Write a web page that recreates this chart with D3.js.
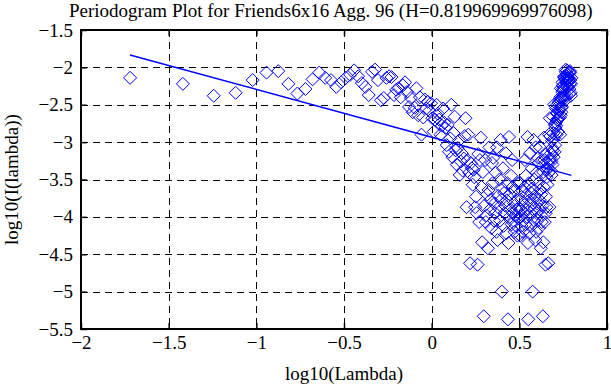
<!DOCTYPE html>
<html><head><meta charset="utf-8">
<script src="https://cdn.jsdelivr.net/npm/d3@7"></script>
<style>
body{margin:0;background:#fff;}
text{font-family:"Liberation Serif","Times New Roman",serif;fill:#000;}
</style>
</head><body>
<svg id="chart" width="611" height="385"></svg>
<script>
// ---- data ----
const titleText = "Periodogram Plot for Friends6x16 Agg. 96 (H=0.819969969976098)";
const xLabel = "log10(Lambda)";
const yLabel = "log10(I(lambda))";
const xTickValues = [-2, -1.5, -1, -0.5, 0, 0.5, 1];
const xTickLabels = ["\u22122", "\u22121.5", "\u22121", "\u22120.5", "0", "0.5", "1"];
const yTickValues = [-5.5, -5, -4.5, -4, -3.5, -3, -2.5, -2, -1.5];
const yTickLabels = ["\u22125.5", "\u22125", "\u22124.5", "\u22124", "\u22123.5", "\u22123", "\u22122.5", "\u22122", "\u22121.5"];

// log10(lambda) of each periodogram point
const logLambda = [
-1.720,-1.419,-1.243,-1.118,-1.021,-0.942,-0.875,-0.817,-0.766,-0.720,
-0.679,-0.641,-0.607,-0.574,-0.544,-0.516,-0.490,-0.465,-0.442,-0.419,
-0.398,-0.378,-0.359,-0.340,-0.323,-0.306,-0.289,-0.273,-0.258,-0.243,
-0.229,-0.215,-0.202,-0.189,-0.176,-0.164,-0.152,-0.141,-0.129,-0.118,
-0.108,-0.097,-0.087,-0.077,-0.067,-0.058,-0.048,-0.039,-0.030,-0.022,
-0.013,-0.004,0.004,0.012,0.020,0.028,0.035,0.043,0.050,0.058,
0.065,0.072,0.079,0.086,0.092,0.099,0.106,0.112,0.118,0.125,
0.131,0.137,0.143,0.149,0.155,0.160,0.166,0.172,0.177,0.183,
0.188,0.193,0.199,0.204,0.209,0.214,0.219,0.224,0.229,0.234,
0.239,0.243,0.248,0.253,0.257,0.262,0.266,0.271,0.275,0.280,
0.284,0.288,0.292,0.297,0.301,0.305,0.309,0.313,0.317,0.321,
0.325,0.329,0.333,0.336,0.340,0.344,0.348,0.351,0.355,0.359,
0.362,0.366,0.369,0.373,0.376,0.380,0.383,0.387,0.390,0.393,
0.397,0.400,0.403,0.407,0.410,0.413,0.416,0.419,0.423,0.426,
0.429,0.432,0.435,0.438,0.441,0.444,0.447,0.450,0.453,0.456,
0.459,0.461,0.464,0.467,0.470,0.473,0.475,0.478,0.481,0.484,
0.486,0.489,0.492,0.494,0.497,
0.500,0.502,0.505,0.507,0.510,0.512,0.515,0.518,0.520,0.523,
0.525,0.527,0.530,0.532,0.535,0.537,0.540,0.542,0.544,0.547,
0.549,0.551,0.554,0.556,0.558,0.561,0.563,0.565,0.567,0.570,
0.572,0.574,0.576,0.578,0.581,0.583,0.585,0.587,0.589,0.591,
0.593,0.596,0.598,0.600,0.602,0.604,0.606,0.608,0.610,0.612,
0.614,0.616,0.618,0.620,0.622,0.624,0.626,0.628,0.630,0.632,
0.634,0.636,0.637,0.639,0.641,0.643,0.645,0.647,0.649,0.651,
0.652,0.654,0.656,0.658,0.660,0.662,0.663,0.665,0.667,0.669,
0.670,0.672,0.674,0.676,0.677,0.679,0.681,0.683,0.684,0.686,
0.688,0.689,0.691,0.693,0.694,0.696,0.698,0.699,0.701,0.703,
0.704,0.706,0.708,0.709,0.711,0.712,0.714,0.716,0.717,0.719,
0.720,0.722,0.724,0.725,0.727,0.728,0.730,0.731,0.733,0.734,
0.736,0.737,0.739,0.740,0.742,0.743,0.745,0.746,0.748,0.749,
0.751,0.752,0.754,0.755,0.757,0.758,0.760,0.761,0.762,0.764,
0.765,0.767,0.768,0.770,0.771,0.772,0.774,0.775,0.776,0.778,
0.779,0.781,0.782,0.783,0.785,0.786,0.787,0.789,0.790,0.791,
0.793,0.794,0.795,0.797
];

// log10(I(lambda)) of each periodogram point
const logI = [
-2.14,-2.22,-2.38,-2.34,-2.17,-2.07,-2.05,-2.22,-2.35,-2.29,
-2.16,-2.07,-2.14,-2.17,-2.26,-2.20,-2.14,-2.10,-2.04,-2.12,
-2.21,-2.26,-2.37,-2.06,-2.03,-2.17,-2.44,-2.41,-2.14,-2.12,
-2.13,-2.37,-2.30,-2.28,-2.40,-2.24,-2.20,-2.33,-2.53,-2.41,
-2.60,-2.54,-2.28,-2.64,-2.40,-2.90,-2.67,-2.43,-2.55,-2.46,
-2.58,-2.48,-2.68,-2.86,-2.70,-2.50,-2.62,-2.70,-2.90,-2.78,
-2.55,-2.74,-2.81,-3.04,-2.77,-3.13,-2.95,-2.50,-3.20,-2.88,
-2.66,-3.11,-3.30,-3.08,-2.98,-3.44,-3.26,-3.15,-3.38,-3.22,
-2.92,-2.68,-3.87,-3.24,-2.90,-3.41,-4.62,-3.28,-3.35,-3.57,
-3.37,-3.47,-3.87,-3.73,-3.95,-4.64,-3.16,-4.07,-3.24,-2.94,
-3.60,-4.34,-3.40,-5.33,-3.85,-3.24,-4.07,-3.98,-3.70,-4.42,
-3.64,-3.07,-3.90,-3.77,-4.15,-3.28,-3.55,-3.21,-4.05,-3.82,
-3.95,-3.41,-4.20,-3.07,-4.31,-3.72,-3.88,-3.50,-4.05,-2.97,
-3.77,-5.00,-3.62,-3.35,-4.12,-3.68,-3.95,-3.85,-3.15,-4.22,
-3.78,-3.55,-5.37,-4.35,-2.93,-4.00,-3.70,-3.90,-3.45,-4.10,
-3.24,-3.60,-3.95,-4.05,-3.82,-4.20,-3.65,-3.98,-4.12,-3.77,
-3.90,-4.25,-3.55,-4.02,-3.88,
-4.02,-3.55,-4.25,-3.90,
-3.77,-4.12,-3.98,-3.65,-4.20,-3.82,-4.05,-3.95,-3.60,-3.24,
-4.10,-3.45,-3.90,-3.70,-4.00,-2.93,-4.35,-5.37,-3.55,-3.78,
-4.22,-3.15,-3.85,-3.95,-3.68,-4.12,-3.35,-3.62,-5.00,-3.77,
-2.97,-4.05,-3.50,-3.88,-3.72,-4.31,-3.07,-4.20,-3.41,-3.95,
-3.82,-4.05,-3.21,-3.55,-3.28,-4.15,-3.77,-3.90,-3.07,-3.64,
-4.42,-3.70,-3.98,-4.07,-3.24,-3.85,-5.33,-3.40,-4.34,-3.60,
-2.94,-3.24,-4.07,-3.16,-4.64,-3.95,-3.73,-3.87,-3.47,-3.37,
-3.57,-3.35,-3.28,-4.62,-3.41,-2.90,-3.24,-3.87,-2.68,-2.92,
-3.22,-3.38,-3.15,-3.26,-3.44,-2.98,-3.08,-3.30,-3.11,-2.66,
-2.88,-3.20,-2.50,-2.95,-3.13,-2.77,-3.04,-2.81,-2.74,-2.55,
-2.78,-2.90,-2.70,-2.62,-2.50,-2.70,-2.86,-2.68,-2.48,-2.58,
-2.46,-2.55,-2.43,-2.67,-2.90,-2.40,-2.64,-2.28,-2.54,-2.60,
-2.41,-2.53,-2.33,-2.20,-2.24,-2.40,-2.28,-2.30,-2.37,-2.13,
-2.12,-2.14,-2.41,-2.44,-2.17,-2.03,-2.06,-2.37,-2.26,-2.21,
-2.12,-2.04,-2.10,-2.14,-2.20,-2.26,-2.17,-2.14,-2.07,-2.16,
-2.29,-2.35,-2.22,-2.05,-2.07,-2.17,-2.34,-2.38,-2.22,-2.14
];

// least-squares fit line endpoints
const fitX = [-1.7205, 0.797];
const fitY = [-1.834, -3.445];

// ---- drawing ----
const svg = d3.select("#chart");
const x = d3.scaleLinear().domain([-2, 1]).range([81, 607]);
const y = d3.scaleLinear().domain([-5.5, -1.5]).range([329, 30]);
const [x0, x1] = x.range();
const [y0, y1] = y.range();

svg.append("rect").attr("width", 611).attr("height", 385).attr("fill", "#fff");

// dashed grid
const grid = svg.append("g").attr("stroke", "#000").attr("stroke-width", 1)
  .attr("stroke-dasharray", "7,5").attr("shape-rendering", "crispEdges");
grid.selectAll("line.gx").data(xTickValues.slice(1, -1)).join("line")
  .attr("x1", d => Math.round(x(d))).attr("x2", d => Math.round(x(d)))
  .attr("y1", y1).attr("y2", y0);
grid.selectAll("line.gy").data(yTickValues.slice(1, -1)).join("line")
  .attr("y1", d => Math.round(y(d))).attr("y2", d => Math.round(y(d)))
  .attr("x1", x0).attr("x2", x1);

// points (diamonds)
const pts = d3.range(Math.min(logLambda.length, logI.length)).map(i => [logLambda[i], logI[i]]);
const r = 6.5;
svg.append("g").selectAll("path").data(pts).join("path")
  .attr("d", d => {
    const cx = x(d[0]), cy = y(d[1]);
    return `M${cx},${cy - r}L${cx + r},${cy}L${cx},${cy + r}L${cx - r},${cy}Z`;
  })
  .attr("fill", "none").attr("stroke", "#0000ff").attr("stroke-width", 1);

// fit line
svg.append("path")
  .datum(fitX.map((v, i) => [v, fitY[i]]))
  .attr("d", d3.line().x(d => x(d[0])).y(d => y(d[1])))
  .attr("fill", "none").attr("stroke", "#0000ff").attr("stroke-width", 1.5);

// axes (inward ticks on all sides)
function styleAxis(g) {
  g.select(".domain").remove();
  g.selectAll(".tick line").attr("stroke", "#000").attr("stroke-width", 1.5);
  g.selectAll(".tick text").attr("font-size", 19).attr("font-family", "Liberation Serif, Times New Roman, serif");
}
svg.append("g").attr("transform", `translate(0,${y0})`)
  .call(d3.axisBottom(x).tickValues(xTickValues).tickFormat((d, i) => xTickLabels[i])
    .tickSizeInner(-6).tickSizeOuter(0).tickPadding(7))
  .call(styleAxis);
svg.append("g").attr("transform", `translate(0,${y1})`)
  .call(d3.axisTop(x).tickValues(xTickValues).tickFormat("").tickSizeInner(-6).tickSizeOuter(0))
  .call(styleAxis);
svg.append("g").attr("transform", `translate(${x0},0)`)
  .call(d3.axisLeft(y).tickValues(yTickValues).tickFormat((d, i) => yTickLabels[i])
    .tickSizeInner(-6).tickSizeOuter(0).tickPadding(8))
  .call(styleAxis);
svg.append("g").attr("transform", `translate(${x1},0)`)
  .call(d3.axisRight(y).tickValues(yTickValues).tickFormat("").tickSizeInner(-6).tickSizeOuter(0))
  .call(styleAxis);

// box
svg.append("rect").attr("x", x0).attr("y", y1).attr("width", x1 - x0).attr("height", y0 - y1)
  .attr("fill", "none").attr("stroke", "#000").attr("stroke-width", 2);

// labels
svg.append("text").attr("x", 69).attr("y", 17).attr("font-size", 19)
  .attr("text-anchor", "start").text(titleText);
svg.append("text").attr("x", (x0 + x1) / 2).attr("y", 380).attr("font-size", 19)
  .attr("text-anchor", "middle").text(xLabel);
svg.append("text").attr("transform", `translate(18,${(y0 + y1) / 2}) rotate(-90)`)
  .attr("font-size", 19).attr("text-anchor", "middle").text(yLabel);
</script>
</body></html>
